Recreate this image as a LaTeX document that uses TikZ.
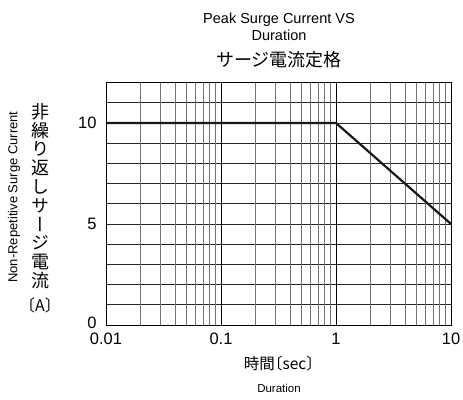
\documentclass[tikz,border=0pt]{standalone}
\usepackage{fontspec}
\setmainfont{Liberation Sans}
\newfontfamily\jpfont{Noto Sans CJK JP}
\newfontfamily\jphfont[RawFeature=+halt]{Noto Sans CJK JP}
\newfontfamily\jpvfont[RawFeature=+vert]{Noto Sans CJK JP}
\usetikzlibrary{positioning, calc}

\begin{document}
\begin{tikzpicture}[x=1pt, y=1pt,
		minorline/.style={black!55, line width=0.9pt},
		majorline/.style={black, line width=0.8pt},
		hline/.style={black!85, line width=0.7pt},
		curve/.style={black!90, line width=2.2pt, line join=miter},
		numlabel/.style={font=\fontsize{16.5}{18}\selectfont, inner sep=0pt}]
	
	\useasboundingbox (0,0) rectangle (463,399);
	
	% titles
	\node[font=\fontsize{14.5}{16.5}\selectfont, align=center, inner sep=0pt] (titleen) at (279,372) {Peak Surge Current VS\\Duration};
	\node[font=\jpfont\fontsize{18}{20}\selectfont, inner sep=0pt] (titlejp) at (279,339) {サージ電流定格};
	
	% axis titles
	\node[font=\fontsize{13}{15}\selectfont, rotate=90, inner sep=0pt] (ylabelen) at (14,202) {Non-Repetitive Surge Current};
	\node[font=\jpvfont\fontsize{18}{18.8}\selectfont, align=center, anchor=north, inner sep=0pt] (ylabeljp) at (40,296) {非\\繰\\り\\返\\し\\サ\\ー\\ジ\\電\\流};
	\node[font=\jpfont\fontsize{16}{18}\selectfont, inner sep=0pt] (yunit) at (40,94) {〔A〕};
	\node[font=\jphfont\fontsize{15.5}{17}\selectfont, inner sep=0pt] (xlabeljp) at (279,35) {時間〔sec〕};
	\node[font=\fontsize{11.5}{13}\selectfont, inner sep=0pt] (xlabelen) at (279,11) {Duration};
	
	\begin{scope}[shift={(106pt,74pt)}, x=115pt, y=20.2pt]
		
		% horizontal grid
		\foreach \y in {1,...,11}
		\draw[hline] (0,\y) -- (3,\y);
		
		% vertical grid (log scale)
		\foreach \d in {0,1,2}
		\foreach \m in {2,...,9}
		{
			\pgfmathsetmacro{\lx}{\d+log10(\m)}
			\draw[minorline] (\lx,0) -- (\lx,12);
		}
		\foreach \d in {1,2}
		\draw[majorline] (\d,0) -- (\d,12);
		
		% frame
		\draw[majorline] (0,0) rectangle (3,12);
		
		% rating curve
		\draw[curve] (0,10) -- (2,10) -- (3,5);
		
		% tick labels
		\node[numlabel, anchor=east] (y10) at (-0.08,10) {10};
		\node[numlabel, anchor=east] (y5) at (-0.08,5) {5};
		\node[numlabel, anchor=east] (y0) at (-0.08,0.1) {0};
		\node[numlabel] (x001) at (0,-0.69) {0.01};
		\node[numlabel] (x01) at (1,-0.69) {0.1};
		\node[numlabel] (x1) at (2,-0.69) {1};
		\node[numlabel] (x10) at (3,-0.69) {10};
	\end{scope}
\end{tikzpicture}
\end{document}
